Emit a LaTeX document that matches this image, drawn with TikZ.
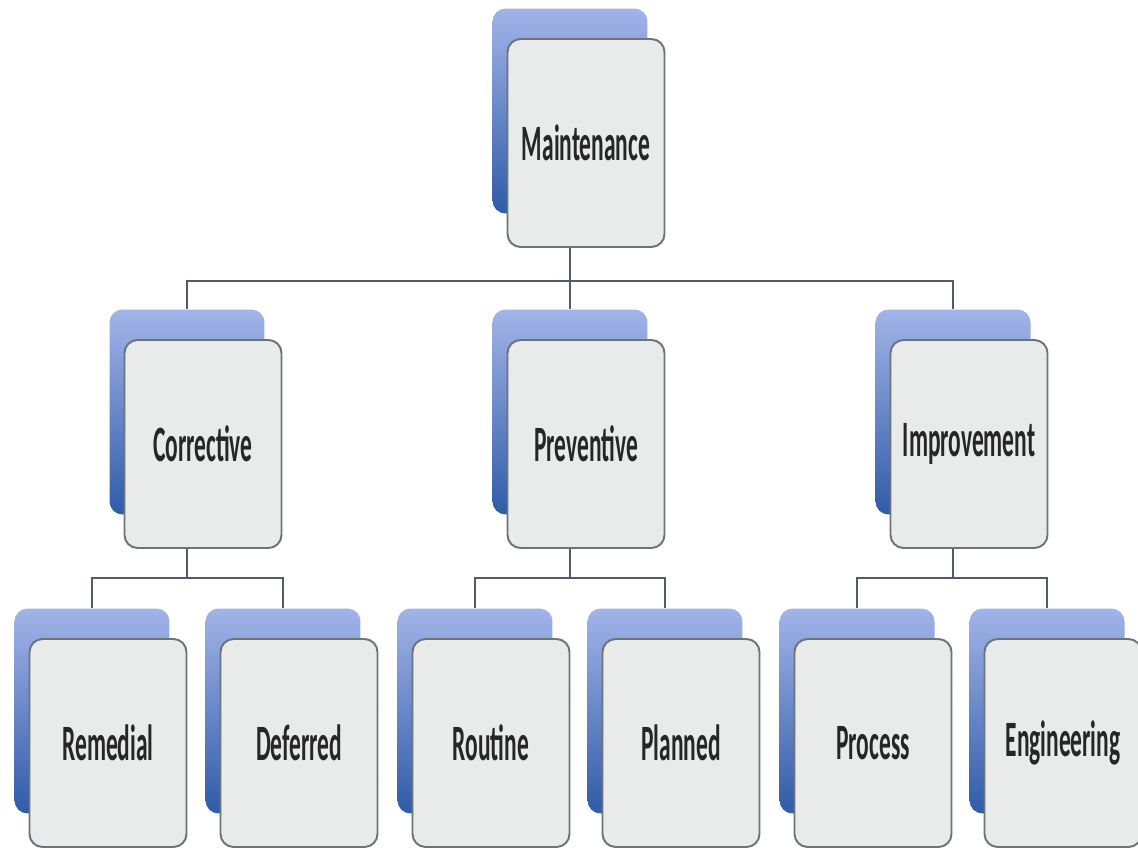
\documentclass[tikz,border=0pt]{standalone}
\usepackage{fontspec}
\usetikzlibrary{calc}
\newfontfamily\boxfont[FakeStretch=0.46]{Carlito}
\definecolor{backtop}{HTML}{A2B4E8}
\definecolor{backbot}{HTML}{2F5BA8}
\definecolor{frontfill}{HTML}{E9EBEA}
\definecolor{frontline}{HTML}{6E7377}
\definecolor{linkcol}{HTML}{505C6A}

\begin{document}
\begin{tikzpicture}[x=0.02cm, y=-0.02cm,
    back/.style={rectangle, rounded corners=0.26cm, minimum width=3.1cm, minimum height=4.1cm,
        top color=backtop, bottom color=backbot, draw=none},
    front/.style={rectangle, rounded corners=0.26cm, minimum width=3.14cm, minimum height=4.16cm,
        fill=frontfill, draw=frontline, line width=1.1pt, inner sep=0pt,
        font=\boxfont\bfseries\fontsize{29}{30}\selectfont, text=black!85},
    link/.style={draw=linkcol, line width=1.1pt}]
    \clip (0, 0) rectangle (1138, 851);
    \fill[white] (0, 0) rectangle (1138, 851);

    % top level
    \node[back] (mntb) at (570, 111) {};
    \node[front] (mnt) at ($(mntb)+(16, 32)$) {Maintenance};

    % second level
    \node[back] (corb) at (187, 412) {};
    \node[front] (cor) at ($(corb)+(16, 32)$) {Corrective};
    \node[back] (preb) at (570, 412) {};
    \node[front] (pre) at ($(preb)+(16, 32)$) {Preventive};
    \node[back] (impb) at (953, 412) {};
    \node[front] (imp) at ($(impb)+(16, 32)$) {Improvement};

    % third level
    \node[back] (remb) at (92, 711) {};
    \node[front] (rem) at ($(remb)+(16, 32)$) {Remedial};
    \node[back] (defb) at (283, 711) {};
    \node[front] (def) at ($(defb)+(16, 32)$) {Deferred};
    \node[back] (roub) at (475, 711) {};
    \node[front] (rou) at ($(roub)+(16, 32)$) {Routine};
    \node[back] (plab) at (665, 711) {};
    \node[front] (pla) at ($(plab)+(16, 32)$) {Planned};
    \node[back] (prob) at (857, 711) {};
    \node[front] (pro) at ($(prob)+(16, 32)$) {Process};
    \node[back] (engb) at (1047, 711) {};
    \node[front] (eng) at ($(engb)+(16, 32)$) {Engineering};

    % connectors
    \coordinate (j1) at (570, 281);
    \draw[link] (mntb.north |- mnt.south) -- (mntb.north |- j1);
    \draw[link] (corb.north) |- (j1) -| (impb.north);
    \draw[link] (j1) -- (preb.north);

    \coordinate (j2) at (0, 578);
    \draw[link] (corb.north |- cor.south) -- (corb.north |- j2);
    \draw[link] (remb.north) |- (j2 -| corb) -| (defb.north);
    \draw[link] (preb.north |- pre.south) -- (preb.north |- j2);
    \draw[link] (roub.north) |- (j2 -| preb) -| (plab.north);
    \draw[link] (impb.north |- imp.south) -- (impb.north |- j2);
    \draw[link] (prob.north) |- (j2 -| impb) -| (engb.north);
\end{tikzpicture}
\end{document}
